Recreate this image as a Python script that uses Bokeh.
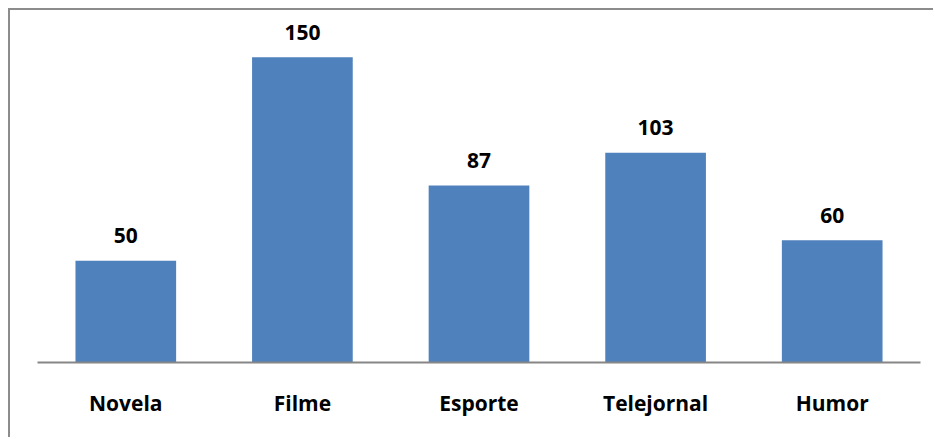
from bokeh.plotting import figure
from bokeh.models import ColumnDataSource, LabelSet, Range1d, FactorRange
from bokeh.core.properties import value
from bokeh.embed import file_html
from bokeh.resources import INLINE

categories = ["Novela", "Filme", "Esporte", "Telejornal", "Humor"]
values = [50, 150, 87, 103, 60]
value_labels = [str(v) for v in values]

source = ColumnDataSource(data=dict(cat=categories, val=values, lbl=value_labels))

p = figure(
    x_range=FactorRange(factors=categories, range_padding=0),
    y_range=Range1d(0, 168),
    width=925, height=429,
    output_backend="svg", toolbar_location=None,
    min_border_left=27, min_border_right=15, min_border_top=10, min_border_bottom=77,
)
p.styles = {"border-left": "2px solid #8c8c8c", "border-top": "2px solid #8c8c8c",
            "margin-left": "8px", "margin-top": "8px"}

p.vbar(x="cat", top="val", width=0.57, source=source, color="#4F81BD", line_color=None)

labels = LabelSet(x="cat", y="val", text="lbl", source=source, y_offset=25,
                  text_align="center", text_baseline="middle",
                  text_font=value("Open Sans"), text_font_style="bold", text_font_size="21px",
                  text_color="black")
p.add_layout(labels)

p.outline_line_color = None
p.background_fill_color = "white"
p.border_fill_color = "white"
p.grid.visible = False

p.yaxis.visible = False
xa = p.xaxis[0]
xa.axis_line_color = "#868686"
xa.axis_line_width = 2
xa.major_tick_line_color = None
xa.minor_tick_line_color = None
xa.major_tick_in = 0
xa.major_tick_out = 0
xa.major_label_standoff = 26
xa.major_label_text_font = "Open Sans"
xa.major_label_text_font_style = "bold"
xa.major_label_text_font_size = "21px"
xa.major_label_text_color = "black"

open("out.html", "w").write(file_html(p, INLINE))
